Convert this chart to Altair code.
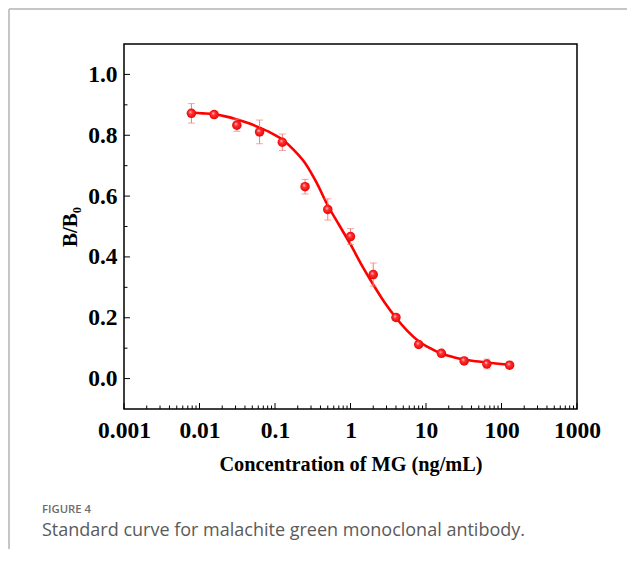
import altair as alt
import pandas as pd

# Measured standards (concentration ng/mL, B/B0, SD)
conc = [0.0078125, 0.015625, 0.03125, 0.0625, 0.125, 0.25, 0.5, 1, 2, 4, 8, 16, 32, 64, 128]
bb0 = [0.872, 0.868, 0.833, 0.811, 0.777, 0.631, 0.556, 0.467, 0.342, 0.201, 0.112, 0.083, 0.058, 0.048, 0.044]
sd = [0.032, 0.008, 0.020, 0.039, 0.027, 0.024, 0.035, 0.026, 0.038, 0.008, 0.006, 0.006, 0.006, 0.016, 0.005]

# Fitted curve
fit_x = [0.0078125, 0.011, 0.015625, 0.022, 0.03125, 0.044, 0.0625, 0.088, 0.125, 0.177, 0.25,
         0.354, 0.5, 0.707, 1, 1.414, 2, 2.83, 4, 5.66, 8, 11.3, 16, 22.6, 32, 45.3, 64, 90.5, 128]
fit_y = [0.874, 0.872, 0.869, 0.862, 0.852, 0.840, 0.825, 0.808, 0.786, 0.752, 0.709,
         0.645, 0.569, 0.505, 0.441, 0.372, 0.309, 0.250, 0.200, 0.157, 0.123, 0.100, 0.082, 0.071, 0.0625, 0.057, 0.053, 0.049, 0.045]

x_major = [0.001, 0.01, 0.1, 1, 10, 100, 1000]
x_minor = [m * d for d in [0.001, 0.01, 0.1, 1, 10, 100] for m in range(2, 10)]
y_major = [0.0, 0.2, 0.4, 0.6, 0.8, 1.0]
y_minor = [0.1, 0.3, 0.5, 0.7, 0.9]

x_title = "Concentration of MG (ng/mL)"
y_title = "B/B\u2080"
fig_label = "FIGURE 4"
caption = "Standard curve for malachite green monoclonal antibody."

W, H = 453, 365
serif = "Liberation Serif"

pts = pd.DataFrame({"x": conc, "y": bb0, "lo": [a - b for a, b in zip(bb0, sd)], "hi": [a + b for a, b in zip(bb0, sd)]})
fit = pd.DataFrame({"x": fit_x, "y": fit_y})

xs = alt.Scale(type="log", domain=[0.001, 1000], nice=False)
ys = alt.Scale(domain=[-0.1, 1.1], nice=False, zero=False)

xaxis = alt.Axis(values=x_major, format="~g", ticks=False, domain=False, grid=False,
                 labelFont=serif, labelFontWeight="bold", labelFontSize=23.5, labelColor="black",
                 labelPadding=9, labelFlush=False, labelOverlap=False,
                 title=x_title, titleFont=serif, titleFontWeight="bold", titleFontSize=20.3,
                 titleColor="black", titlePadding=13)
yaxis = alt.Axis(values=y_major, format=".1f", ticks=False, domain=False, grid=False,
                 labelFont=serif, labelFontWeight="bold", labelFontSize=23.5, labelColor="black",
                 labelPadding=7, labelFlush=False, labelOverlap=False,
                 title=y_title, titleFont=serif, titleFontWeight="bold", titleFontSize=21,
                 titleColor="black", titlePadding=7)

base = alt.Chart(pts)

line = alt.Chart(fit).mark_line(color="#ff0000", strokeWidth=2.6, interpolate="monotone").encode(
    x=alt.X("x:Q", scale=xs, axis=xaxis), y=alt.Y("y:Q", scale=ys, axis=yaxis))

ebar = base.mark_rule(color="#f47c7c", strokeWidth=1).encode(x="x:Q", y="lo:Q", y2="hi:Q")
cap_hi = base.mark_tick(color="#f47c7c", orient="horizontal", size=7, thickness=1).encode(x="x:Q", y="hi:Q")
cap_lo = base.mark_tick(color="#f47c7c", orient="horizontal", size=7, thickness=1).encode(x="x:Q", y="lo:Q")

grad = alt.RadialGradient(
    gradient="radial", x1=0.38, y1=0.35, r1=0.0, x2=0.5, y2=0.5, r2=0.55,
    stops=[alt.GradientStop(color="#ffd6d6", offset=0.0),
           alt.GradientStop(color="#ff3030", offset=0.35),
           alt.GradientStop(color="#e60000", offset=1.0)])
dots = base.mark_point(filled=True, fill=grad, size=90, opacity=1, strokeWidth=0).encode(x="x:Q", y="y:Q")

yt_major = alt.Chart(pd.DataFrame({"v": y_major})).mark_rule(color="black", strokeWidth=1).encode(
    y="v:Q", x=alt.value(0), x2=alt.value(6))
yt_minor = alt.Chart(pd.DataFrame({"v": y_minor})).mark_rule(color="black", strokeWidth=1).encode(
    y="v:Q", x=alt.value(0), x2=alt.value(3.5))
xt_major = alt.Chart(pd.DataFrame({"v": x_major})).mark_rule(color="black", strokeWidth=1).encode(
    x="v:Q", y=alt.value(H), y2=alt.value(H - 6))
xt_minor = alt.Chart(pd.DataFrame({"v": x_minor})).mark_rule(color="black", strokeWidth=1).encode(
    x="v:Q", y=alt.value(H), y2=alt.value(H - 3.5))

one = pd.DataFrame({"a": [0]})
border_top = alt.Chart(one).mark_rule(color="#c6c6c6", strokeWidth=2).encode(
    x=alt.value(-115), x2=alt.value(W + 60), y=alt.value(-35))
border_left = alt.Chart(one).mark_rule(color="#c6c6c6", strokeWidth=2).encode(
    x=alt.value(-115), y=alt.value(-35), y2=alt.value(H + 160))

lab = alt.Chart(pd.DataFrame({"t": [fig_label]})).mark_text(
    align="left", baseline="middle", font="Open Sans", fontSize=11.3, fontWeight=600, color="#6b6b6b").encode(
    x=alt.value(-82), y=alt.value(466), text="t:N")
cap = alt.Chart(pd.DataFrame({"t": [caption]})).mark_text(
    align="left", baseline="middle", font="Open Sans", fontSize=18, color="#5a5a5a").encode(
    x=alt.value(-82), y=alt.value(487), text="t:N")

chart = alt.layer(
    border_top, border_left, yt_major, yt_minor, xt_major, xt_minor,
    line, ebar, cap_hi, cap_lo, dots, lab, cap
).properties(
    width=W, height=H, background="white",
    padding={"left": 116, "top": 36, "right": 50, "bottom": 140},
    autosize=alt.AutoSizeParams(type="none"),
).configure_view(stroke="black", strokeWidth=1.5)

chart.save("out.html", embed_options={"renderer": "svg", "actions": False})
